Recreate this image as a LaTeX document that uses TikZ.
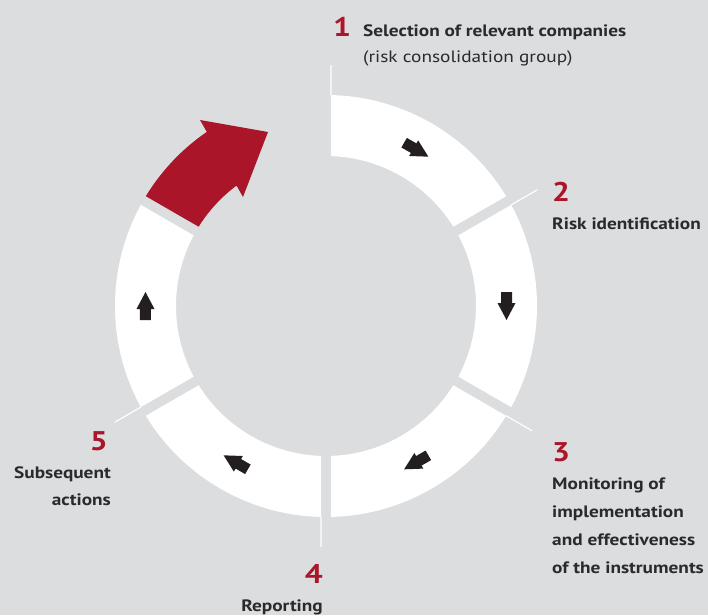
\documentclass[tikz,border=0pt]{standalone}
\usepackage{fontspec}
\setmainfont[FakeStretch=1.17]{PT Sans}
\definecolor{bgc}{HTML}{DCDDDF}
\definecolor{redc}{HTML}{AB1529}
\definecolor{txtc}{HTML}{2A292B}
\definecolor{arrc}{HTML}{231F20}
\tikzset{
  seg/.style={fill=white},
  leader/.style={draw=white, line width=1.2pt},
  num/.style={inner sep=0pt, text=redc, font=\fontsize{27}{27}\selectfont\bfseries},
  lab/.style={inner sep=0pt, text=txtc, font=\fontsize{16.5}{28}\selectfont\bfseries},
  labr/.style={inner sep=0pt, text=txtc, font=\fontsize{16.5}{28}\selectfont},
  smallarrow/.style={fill=arrc}
}
\begin{document}
\begin{tikzpicture}[x=1pt,y=1pt]
\useasboundingbox[fill=bgc] (-326,-309) rectangle (382,306);
\def\Ro{211}
\def\Ri{150}
\pgfmathsetmacro\dR{asin(5/\Ro)}
\pgfmathsetmacro\dr{asin(5/\Ri)}
% ring segments
\foreach \a in {90,30,-30,-90,-150}{
  \fill[seg] (\a-\dR:\Ro pt) arc[start angle=\a-\dR, end angle=\a-60+\dR, radius=\Ro pt]
    -- (\a-60+\dr:\Ri pt) arc[start angle=\a-60+\dr, end angle=\a-\dr, radius=\Ri pt] -- cycle;
}
% red arrow
\fill[redc] (150-\dR:\Ro pt) arc[start angle=150-\dR, end angle=124.4, radius=\Ro pt]
  -- (-126,186) -- (-58,174) -- (-83,109) -- (126.6:\Ri pt)
  arc[start angle=126.6, end angle=150-\dr, radius=\Ri pt] -- cycle;
% small arrows
\foreach \t in {60,0,-60,-120,180}{
  \begin{scope}[shift={(\t:180.5pt)}, rotate=\t-90]
    \fill[smallarrow] (14,0) -- (-3,9) -- (-3,5.5) -- (-14,5.5) -- (-14,-5.5) -- (-3,-5.5) -- (-3,-9) -- cycle;
  \end{scope}
}
% leaders
\foreach \b/\n in {90/a,30/b,-30/c,-90/d,-150/e}{
  \coordinate (l\n1) at (\b-1.36:211pt);
  \coordinate (l\n2) at (\b-1.19:241pt);
  \draw[leader] (l\n1) -- (l\n2);
}
% labels
\node[num, anchor=base west] (n1) at (7,269) {1};
\node[lab, anchor=base west] (t1a) at (37,269) {Selection of relevant companies};
\node[labr, anchor=base west] (t1b) at (37,243) {(risk consolidation group)};
\node[num, anchor=base west] (n2) at (226,104) {2};
\node[lab, anchor=base west] (t2) at (226,76) {Risk identification};
\node[num, anchor=base west] (n3) at (226,-155) {3};
\node[lab, anchor=base west] (t3a) at (226,-183) {Monitoring of};
\node[lab, anchor=base west] (t3b) at (226,-211) {implementation};
\node[lab, anchor=base west] (t3c) at (226,-239) {and effectiveness};
\node[lab, anchor=base west] (t3d) at (226,-267) {of the instruments};
\node[num, anchor=base east] (n4) at (-3,-277) {4};
\node[lab, anchor=base east] (t4) at (-3,-305) {Reporting};
\node[num, anchor=base east] (n5) at (-218,-144) {5};
\node[lab, anchor=base east] (t5a) at (-215,-172) {Subsequent};
\node[lab, anchor=base east] (t5b) at (-215,-199) {actions};
\end{tikzpicture}
\end{document}
